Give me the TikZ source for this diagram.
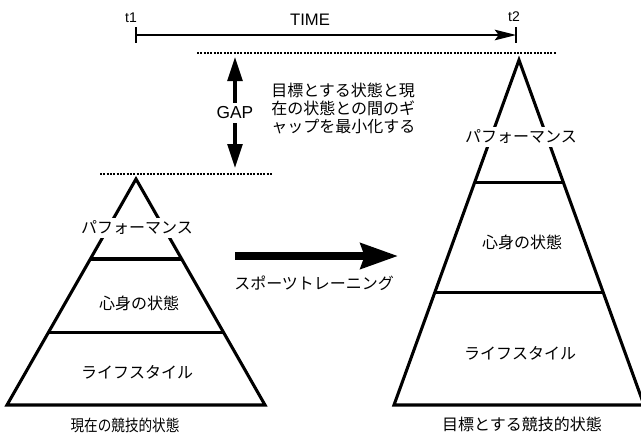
\documentclass[tikz,border=0pt]{standalone}
\usepackage{fontspec}
\setmainfont{Liberation Sans}
\newfontfamily\jp{Noto Sans CJK JP}
\usetikzlibrary{arrows.meta,calc}
\begin{document}
\begin{tikzpicture}[x=0.75pt,y=-0.75pt,
  tri/.style={line width=2.3pt,line join=miter},
  divider/.style={line width=2.3pt},
  dotline/.style={line width=1.9pt,dash pattern=on 1.4pt off 1.1pt},
  jlabel/.style={font=\jp\fontsize{12}{14}\selectfont,inner sep=1pt},
  jmask/.style={jlabel,fill=white,inner sep=2pt},
  timeline/.style={line width=1pt,-{Stealth[length=16pt,width=8pt,inset=3pt]}},
  tick/.style={line width=1.3pt},
  gaparrow/.style={line width=2.6pt,-{Triangle[length=18pt,width=11pt]}},
  bigarrow/.style={line width=5.5pt,-{Stealth[length=28pt,width=19pt,inset=3pt]}}
]
\useasboundingbox (0,0) rectangle (641,436);
\fill[white] (0,0) rectangle (641,436);
\begin{scope}
\clip (0,0) rectangle (641,436);

% TIME axis
\coordinate (t1) at (136,35);
\coordinate (t2) at (516,35);
\draw[timeline] (t1) -- (t2);
\draw[tick] ($(t1)+(0,-8)$) -- ($(t1)+(0,8)$);
\draw[tick] ($(t2)+(0,-8)$) -- ($(t2)+(0,8)$);
\node[font=\fontsize{10.5}{12}\selectfont] (lt1) at (131,18) {t1};
\node[font=\fontsize{10.5}{12}\selectfont] (lt2) at (514,17) {t2};
\node[font=\fontsize{12.5}{14}\selectfont] (time) at (310,20) {TIME};

% dotted levels
\coordinate (d1a) at (197,53);
\coordinate (d1b) at (556,53);
\coordinate (d2a) at (100,174);
\coordinate (d2b) at (273,174);
\draw[dotline] (d1a) -- (d1b);
\draw[dotline] (d2a) -- (d2b);

% GAP
\node[font=\fontsize{13}{14}\selectfont,inner sep=3pt] (gap) at (235,113) {GAP};
\coordinate (gt) at (235,57);
\coordinate (gb) at (235,168);
\draw[gaparrow] (gap.north) -- (gt);
\draw[gaparrow] (gap.south) -- (gb);
\node[anchor=west,align=left,font=\jp\fontsize{12}{13.5}\selectfont,inner sep=0pt] (desc) at (271,108)
  {目標とする状態と現\\在の状態との間のギ\\ャップを最小化する};

% left pyramid
\coordinate (LA) at (136,179);
\coordinate (LL) at (7,405);
\coordinate (LR) at (265,405);
\draw[tri] (LA) -- (LL) -- (LR) -- cycle;
\draw[divider] ($(LA)!0.354!(LL)$) -- ($(LA)!0.354!(LR)$);
\draw[divider] ($(LA)!0.681!(LL)$) -- ($(LA)!0.681!(LR)$);
\node[jmask] (lperf) at (137,228) {パフォーマンス};
\node[jlabel] (lmind) at (139,303) {心身の状態};
\node[jlabel] (llife) at (137,372) {ライフスタイル};
\node[jlabel] (lcap) at (125,425) {\scalebox{0.85}[1]{現在の競技的状態}};

% right pyramid
\coordinate (RA) at (519,60);
\coordinate (RL) at (394,405);
\coordinate (RR) at (644,405);
\draw[tri] (RA) -- (RL) -- (RR) -- cycle;
\draw[divider] ($(RA)!0.354!(RL)$) -- ($(RA)!0.354!(RR)$);
\draw[divider] ($(RA)!0.675!(RL)$) -- ($(RA)!0.675!(RR)$);
\node[jmask] (rperf) at (521,137) {パフォーマンス};
\node[jlabel] (rmind) at (522,242) {心身の状態};
\node[jlabel] (rlife) at (520,353) {ライフスタイル};
\node[jlabel] (rcap) at (522,424) {目標とする競技的状態};

% training arrow
\coordinate (bs) at (235,256);
\coordinate (be) at (398,256);
\draw[bigarrow] (bs) -- (be);
\node[jlabel,anchor=west,inner sep=0pt] (train) at (234,283) {スポーツトレーニング};
\end{scope}
\end{tikzpicture}
\end{document}
